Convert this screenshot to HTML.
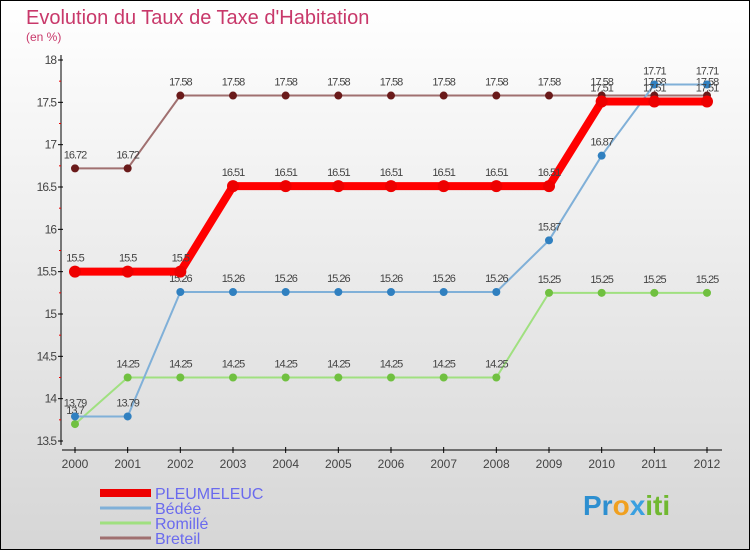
<!DOCTYPE html>
<html><head><meta charset="utf-8"><style>
body{margin:0}
svg{display:block;font-family:"Liberation Sans",sans-serif}
</style></head><body>
<svg width="750" height="550">
<defs><linearGradient id="bg" x1="0" y1="0" x2="0" y2="1"><stop offset="0" stop-color="#ffffff"/><stop offset="1" stop-color="#d6d6d6"/></linearGradient></defs>
<rect x="0.5" y="0.5" width="749" height="549" fill="url(#bg)" stroke="#000"/>
<text x="26" y="24" font-size="20" fill="#c8386a">Evolution du Taux de Taxe d'Habitation</text>
<text x="26" y="41" font-size="12" fill="#c8386a">(en %)</text>
<g id="axes"></g>
<g id="series"></g>
<g id="legend"></g>
<text x="583" y="515" font-size="28" font-weight="bold"><tspan fill="#2d8fd0">Pr</tspan><tspan fill="#f0a020">o</tspan><tspan fill="#3aa0e0">x</tspan><tspan fill="#70b830">iti</tspan></text>
</svg>
<script>
const years=[2000,2001,2002,2003,2004,2005,2006,2007,2008,2009,2010,2011,2012];
const yTicks=[13.5,14,14.5,15,15.5,16,16.5,17,17.5,18];
const pleumeleuc=[15.5,15.5,15.5,16.51,16.51,16.51,16.51,16.51,16.51,16.51,17.51,17.51,17.51];
const bedee=[13.79,13.79,15.26,15.26,15.26,15.26,15.26,15.26,15.26,15.87,16.87,17.71,17.71];
const romille=[13.7,14.25,14.25,14.25,14.25,14.25,14.25,14.25,14.25,15.25,15.25,15.25,15.25];
const breteil=[16.72,16.72,17.58,17.58,17.58,17.58,17.58,17.58,17.58,17.58,17.58,17.58,17.58];
const seriesNames=["PLEUMELEUC","Bédée","Romillé","Breteil"];
const NS="http://www.w3.org/2000/svg";
function X(i){return 75+i*(707-75)/(years.length-1);}
function Y(v){return 60+(18-v)*(441-60)/4.5;}
function mk(tag,attrs,parent){const e=document.createElementNS(NS,tag);for(const k in attrs)e.setAttribute(k,attrs[k]);parent.appendChild(e);return e;}
const ax=document.getElementById('axes');
let e=mk('line',{x1:61,y1:55,x2:61,y2:445,stroke:'#000'},ax);


e=mk('line',{x1:62,y1:450,x2:722,y2:450,stroke:'#000'},ax);


yTicks.forEach((t,i)=>{
  const y=Y(t);
  mk('line',{x1:58,y1:y,x2:63,y2:y,stroke:'#000'},ax);
  const tx=mk('text',{x:56,y:y+4,'font-size':12,fill:'#444','text-anchor':'end','letter-spacing':'-1'},ax);
  tx.textContent=String(t);
  
  
  if(i<yTicks.length-1){const ym=Y(t+0.25);mk('line',{x1:59,y1:ym,x2:61,y2:ym,stroke:'#e00'},ax);}
});
years.forEach((yr,i)=>{
  const x=X(i);
  mk('line',{x1:x,y1:447,x2:x,y2:453,stroke:'#000'},ax);
  const tx=mk('text',{x:x,y:468,'font-size':12,fill:'#444','text-anchor':'middle'},ax);
  tx.textContent=String(yr);
  
  
});
const sg=document.getElementById('series');
const defs=[
 {d:breteil,c:'#a07070',dot:'#6a1a1a',w:2,r:4,n:'breteil'},
 {d:romille,c:'#a0e080',dot:'#70c040',w:2,r:4,n:'romille'},
 {d:bedee,c:'#80b0d8',dot:'#3080c0',w:2,r:4,n:'bedee'},
 {d:pleumeleuc,c:'#ff0000',dot:'#ee0000',w:8,r:6,n:'pleumeleuc'}
];
defs.forEach(s=>{
  const pts=s.d.map((v,i)=>X(i)+','+Y(v)).join(' ');
  const pl=mk('polyline',{points:pts,fill:'none',stroke:s.c,'stroke-width':s.w},sg);
  
  
  s.d.forEach((v,i)=>{
    const c=mk('circle',{cx:X(i),cy:Y(v),r:s.r,fill:s.dot},sg);
    
    
    const t=mk('text',{x:X(i),y:Y(v)-10,'font-size':11,fill:'#444','text-anchor':'middle','letter-spacing':'-1'},sg);
    t.textContent=String(v);
    
    
  });
});
const lg=document.getElementById('legend');
const lc=['#ee0000','#80b0d8','#a0e080','#a07070'],lw=[8,3,3,3];
seriesNames.forEach((n,i)=>{
  const y=493+i*15;
  const l=mk('line',{x1:100,y1:y,x2:151,y2:y,stroke:lc[i],'stroke-width':lw[i]},lg);
  
  
  const t=mk('text',{x:155,y:y+6,'font-size':16,fill:'#6a6aee'},lg);
  t.textContent=n;
  
  
});
</script>
</body></html>
